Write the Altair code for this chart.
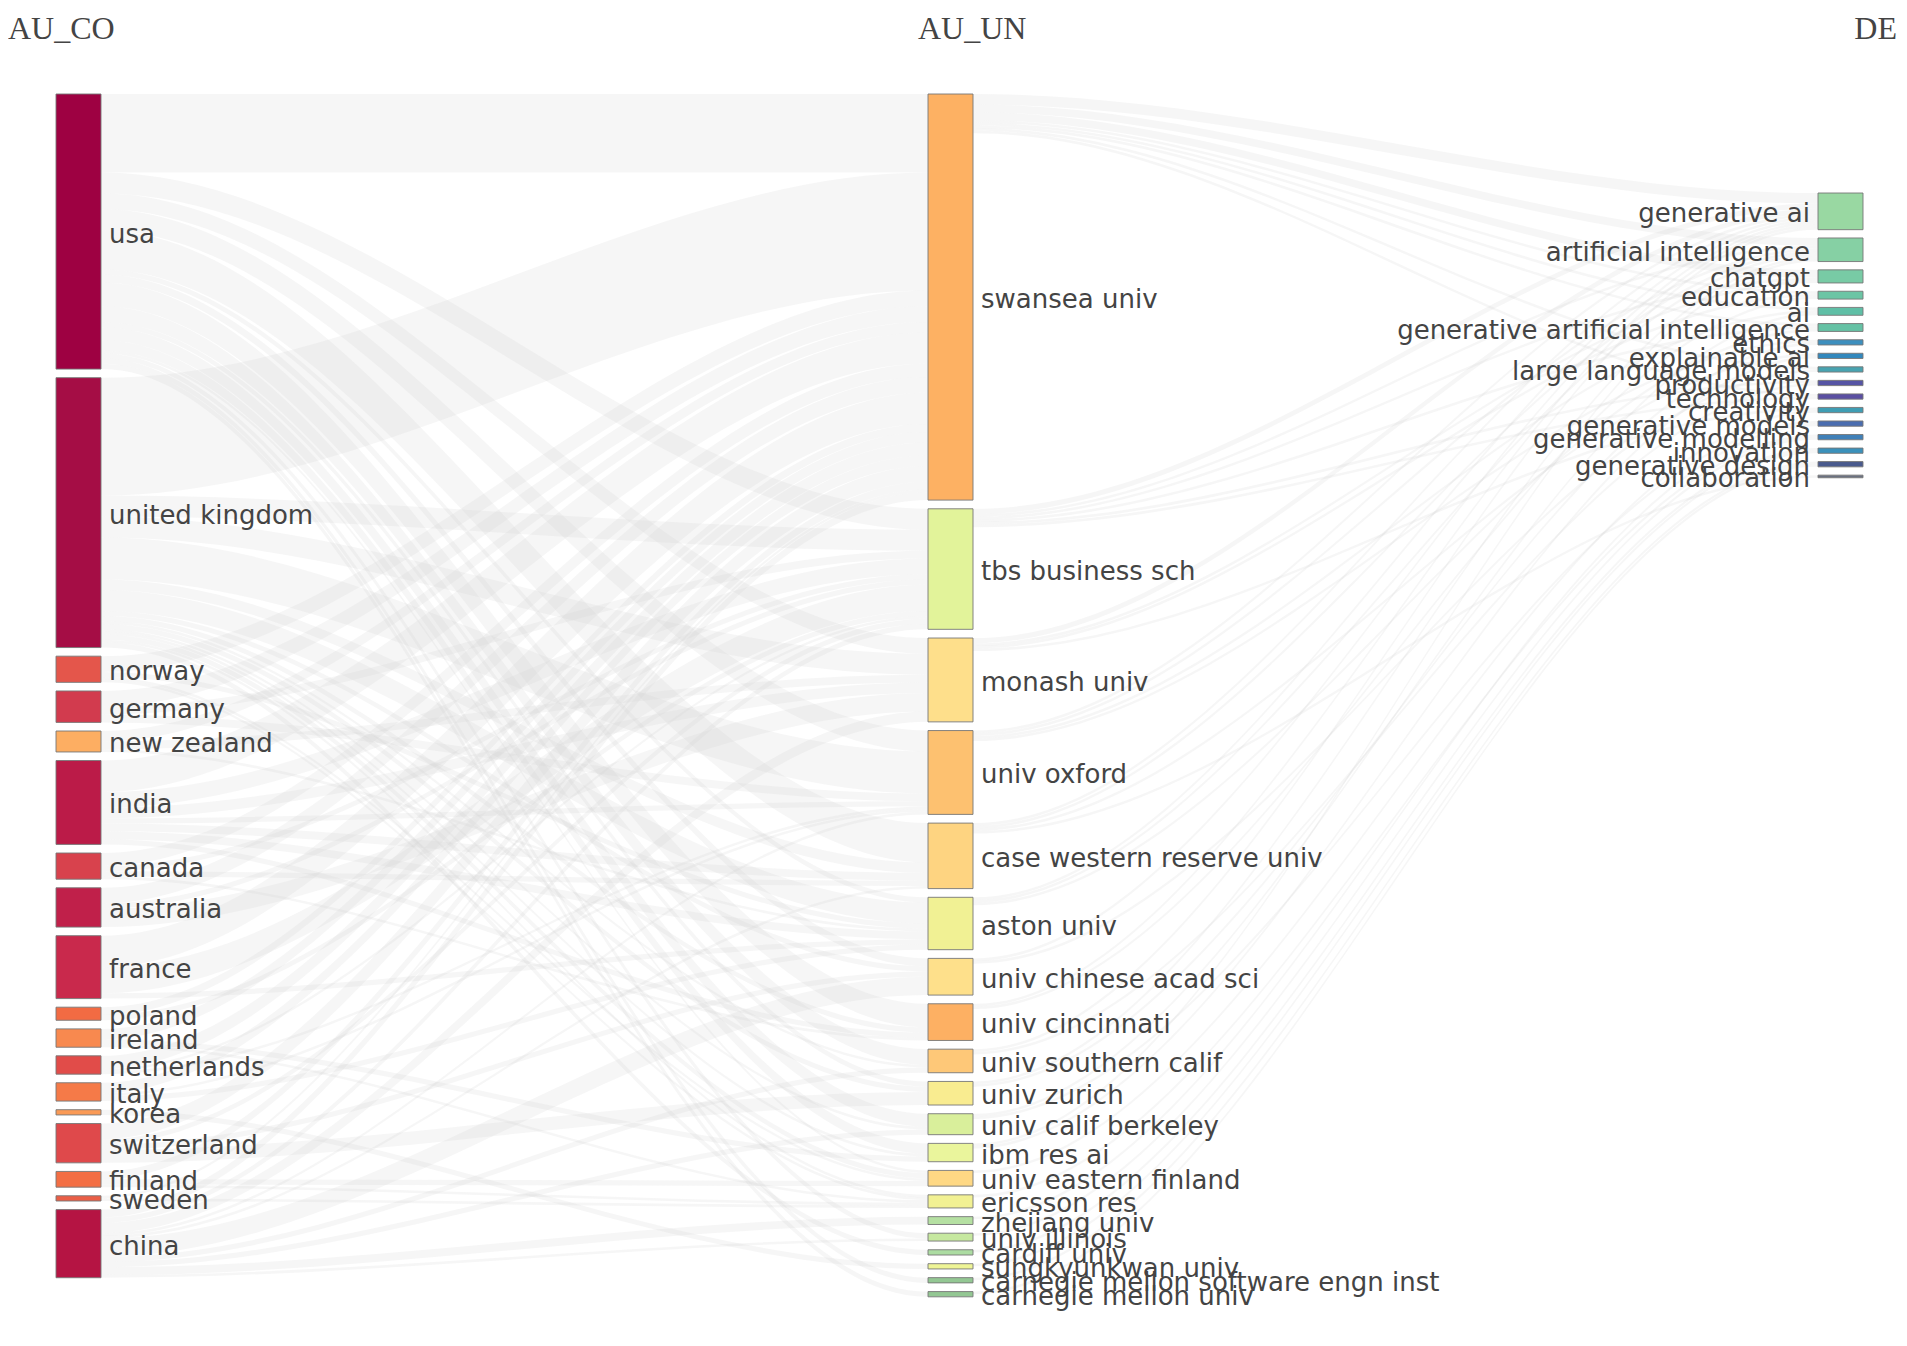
import altair as alt
import pandas as pd
from collections import defaultdict

# ---------------- data ----------------
field_titles = ["AU_CO", "AU_UN", "DE"]

countries = ["usa", "united kingdom", "norway", "germany", "new zealand", "india",
             "canada", "australia", "france", "poland", "ireland", "netherlands",
             "italy", "korea", "switzerland", "finland", "sweden", "china"]

universities = ["swansea univ", "tbs business sch", "monash univ", "univ oxford",
                "case western reserve univ", "aston univ", "univ chinese acad sci",
                "univ cincinnati", "univ southern calif", "univ zurich",
                "univ calif berkeley", "ibm res ai", "univ eastern finland",
                "ericsson res", "zhejiang univ", "univ illinois", "cardiff univ",
                "sungkyunkwan univ", "carnegie mellon software engn inst",
                "carnegie mellon univ"]

keywords = ["generative ai", "artificial intelligence", "chatgpt", "education", "ai",
            "generative artificial intelligence", "ethics", "explainable ai",
            "large language models", "productivity", "technology", "creativity",
            "generative models", "generative modelling", "innovation",
            "generative design", "collaboration"]

# country -> university flows
links_co_un = [
    ("usa", "swansea univ", 30), ("usa", "tbs business sch", 8), ("usa", "monash univ", 6),
    ("usa", "univ oxford", 8), ("usa", "case western reserve univ", 15), ("usa", "aston univ", 2),
    ("usa", "univ chinese acad sci", 3), ("usa", "univ cincinnati", 9),
    ("usa", "univ southern calif", 6), ("usa", "univ zurich", 2), ("usa", "univ calif berkeley", 5),
    ("usa", "ibm res ai", 4), ("usa", "univ eastern finland", 1), ("usa", "univ illinois", 2),
    ("usa", "carnegie mellon software engn inst", 2), ("usa", "carnegie mellon univ", 2),
    ("united kingdom", "swansea univ", 45), ("united kingdom", "tbs business sch", 8),
    ("united kingdom", "monash univ", 8), ("united kingdom", "univ oxford", 16),
    ("united kingdom", "case western reserve univ", 4), ("united kingdom", "aston univ", 8),
    ("united kingdom", "univ chinese acad sci", 2), ("united kingdom", "univ cincinnati", 2),
    ("united kingdom", "univ southern calif", 1), ("united kingdom", "univ zurich", 2),
    ("united kingdom", "univ calif berkeley", 1), ("united kingdom", "ibm res ai", 1),
    ("united kingdom", "univ eastern finland", 2), ("united kingdom", "ericsson res", 1),
    ("united kingdom", "cardiff univ", 2),
    ("norway", "swansea univ", 6), ("norway", "aston univ", 2),
    ("norway", "univ eastern finland", 1), ("norway", "ericsson res", 1),
    ("germany", "swansea univ", 6), ("germany", "tbs business sch", 3), ("germany", "univ oxford", 3),
    ("new zealand", "swansea univ", 4), ("new zealand", "monash univ", 3), ("new zealand", "aston univ", 1),
    ("india", "swansea univ", 12), ("india", "tbs business sch", 6), ("india", "monash univ", 4),
    ("india", "univ oxford", 2), ("india", "case western reserve univ", 3), ("india", "aston univ", 3),
    ("india", "univ cincinnati", 2),
    ("canada", "swansea univ", 5), ("canada", "tbs business sch", 2),
    ("canada", "case western reserve univ", 2), ("canada", "univ cincinnati", 1),
    ("australia", "swansea univ", 6), ("australia", "tbs business sch", 2), ("australia", "monash univ", 7),
    ("france", "swansea univ", 12), ("france", "tbs business sch", 10), ("france", "aston univ", 2),
    ("poland", "swansea univ", 3), ("poland", "tbs business sch", 2),
    ("ireland", "swansea univ", 4), ("ireland", "ibm res ai", 2), ("ireland", "ericsson res", 1),
    ("netherlands", "swansea univ", 5), ("netherlands", "tbs business sch", 1), ("netherlands", "univ oxford", 1),
    ("italy", "swansea univ", 4), ("italy", "univ oxford", 1), ("italy", "aston univ", 2),
    ("korea", "sungkyunkwan univ", 2),
    ("switzerland", "swansea univ", 6), ("switzerland", "tbs business sch", 2),
    ("switzerland", "univ chinese acad sci", 2), ("switzerland", "univ zurich", 5),
    ("finland", "swansea univ", 3), ("finland", "univ eastern finland", 2), ("finland", "ericsson res", 1),
    ("sweden", "swansea univ", 1), ("sweden", "ericsson res", 1),
    ("china", "swansea univ", 3), ("china", "tbs business sch", 2), ("china", "monash univ", 4),
    ("china", "univ oxford", 1), ("china", "case western reserve univ", 1),
    ("china", "univ chinese acad sci", 7), ("china", "univ southern calif", 2),
    ("china", "univ calif berkeley", 2), ("china", "zhejiang univ", 3), ("china", "univ illinois", 1),
]

# university -> keyword flows
links_un_de = [
    ("swansea univ", "generative ai", 4), ("tbs business sch", "generative ai", 2),
    ("monash univ", "generative ai", 2), ("univ oxford", "generative ai", 1),
    ("case western reserve univ", "generative ai", 1), ("aston univ", "generative ai", 1),
    ("univ chinese acad sci", "generative ai", 1), ("univ cincinnati", "generative ai", 1),
    ("univ southern calif", "generative ai", 1),
    ("swansea univ", "artificial intelligence", 3), ("tbs business sch", "artificial intelligence", 1),
    ("univ oxford", "artificial intelligence", 1), ("case western reserve univ", "artificial intelligence", 1),
    ("aston univ", "artificial intelligence", 1), ("univ zurich", "artificial intelligence", 1),
    ("ibm res ai", "artificial intelligence", 1),
    ("swansea univ", "chatgpt", 3), ("tbs business sch", "chatgpt", 1), ("monash univ", "chatgpt", 1),
    ("swansea univ", "education", 1), ("monash univ", "education", 1), ("univ cincinnati", "education", 1),
    ("swansea univ", "ai", 1), ("univ oxford", "ai", 1), ("univ calif berkeley", "ai", 1),
    ("swansea univ", "generative artificial intelligence", 1),
    ("tbs business sch", "generative artificial intelligence", 1),
    ("aston univ", "generative artificial intelligence", 1),
    ("univ oxford", "ethics", 1), ("univ zurich", "ethics", 1),
    ("case western reserve univ", "explainable ai", 1), ("ibm res ai", "explainable ai", 1),
    ("swansea univ", "large language models", 1), ("univ chinese acad sci", "large language models", 1),
    ("tbs business sch", "productivity", 1), ("univ southern calif", "productivity", 1),
    ("swansea univ", "technology", 1), ("tbs business sch", "technology", 1),
    ("monash univ", "creativity", 1), ("univ eastern finland", "creativity", 1),
    ("univ calif berkeley", "generative models", 1), ("zhejiang univ", "generative models", 1),
    ("ericsson res", "generative modelling", 1), ("univ illinois", "generative modelling", 1),
    ("cardiff univ", "innovation", 1), ("sungkyunkwan univ", "innovation", 1),
    ("carnegie mellon software engn inst", "generative design", 1),
    ("carnegie mellon univ", "generative design", 1),
    ("case western reserve univ", "collaboration", 1),
]

# ---------------- styles ----------------
country_colors = ["#9e0142", "#a50d45", "#e4564b", "#d23b4e", "#fdae62", "#bb1b48",
                  "#d8424d", "#c0204a", "#c9294c", "#f26b43", "#f8894f", "#e14c49",
                  "#f57a48", "#fa9a56", "#df494b", "#f36e44", "#ea5e46", "#b51443"]
univ_colors = ["#fdb163", "#e2f39a", "#fedf8b", "#fdc170", "#fed481", "#f1f194",
               "#fee08b", "#fdb063", "#fec878", "#f9ec90", "#d9ef9b", "#eaf59c",
               "#fed884", "#f2f193", "#b5e0a2", "#c6e89f", "#acdca2", "#eef596",
               "#93c793", "#93c793"]
keyword_colors = ["#99d8a2", "#86d0a4", "#78cba5", "#6cc5a5", "#5fbfa6", "#66c2a5",
                  "#3d8fbe", "#3288bd", "#48a3b0", "#5554a4", "#5a4fa2", "#3f9db3",
                  "#4a6db0", "#4080b8", "#3b91bb", "#4a5a8e", "#6a7080"]

W, H = 1891, 1328
KY = 2.62                  # pixels per unit of flow
NODE_W = 45
COL_X = [48, 920, 1810]    # left edge of each column's nodes
TOP_PX = [86, 86, 185]
PAD_PX = [8.6, 8.7, 8.3]
LABEL_GAP = 8
FONT = "DejaVu Sans"

# ---------------- layout from the flows ----------------
columns = [countries, universities, keywords]
colors = [country_colors, univ_colors, keyword_colors]
all_links = links_co_un + links_un_de

inflow, outflow = defaultdict(float), defaultdict(float)
for s, t, v in all_links:
    outflow[s] += v
    inflow[t] += v

col_of, y0_of, val_of = {}, {}, {}
node_rows = []
for c, names in enumerate(columns):
    y = TOP_PX[c] / KY
    for i, n in enumerate(names):
        v = max(inflow[n], outflow[n])
        col_of[n], y0_of[n], val_of[n] = c, y, v
        node_rows.append(dict(name=n, col=c, x0=COL_X[c], x1=COL_X[c] + NODE_W,
                              y0=y, y1=y + v, yc=y + v / 2, color=colors[c][i],
                              lx=(COL_X[c] - LABEL_GAP) if c == 2 else (COL_X[c] + NODE_W + LABEL_GAP)))
        y += v + PAD_PX[c] / KY
nodes = pd.DataFrame(node_rows)

src_y, tgt_y = {}, {}
for n in col_of:
    outs = sorted([k for k, l in enumerate(all_links) if l[0] == n], key=lambda k: y0_of[all_links[k][1]])
    off = y0_of[n]
    for k in outs:
        src_y[k] = off
        off += all_links[k][2]
    ins = sorted([k for k, l in enumerate(all_links) if l[1] == n], key=lambda k: y0_of[all_links[k][0]])
    off = y0_of[n]
    for k in ins:
        tgt_y[k] = off
        off += all_links[k][2]

link_rows = []
for k, (s, t, v) in enumerate(all_links):
    xs = COL_X[col_of[s]] + NODE_W
    xt = COL_X[col_of[t]]
    pts = [(xs, src_y[k]), (xs + 1, src_y[k]), (xt - 1, tgt_y[k]), (xt, tgt_y[k])]
    for step, (px, py) in enumerate(pts):
        link_rows.append(dict(lid=k, step=step, x=float(px), y=float(py), y2=float(py + v)))
links = pd.DataFrame(link_rows)

titles = pd.DataFrame({"t": field_titles, "x": [0, 910, W - 2]})

xs_scale = alt.Scale(domain=[0, W], nice=False, zero=False)
ys_scale = alt.Scale(domain=[0, H / KY], nice=False, zero=False, reverse=True)

link_layer = alt.Chart(links).mark_area(
    interpolate="monotone", color="#d3d3d3", opacity=0.2
).encode(
    x=alt.X("x:Q", scale=xs_scale, axis=None),
    y=alt.Y("y:Q", scale=ys_scale, axis=None, stack=None),
    y2="y2:Q",
    detail="lid:N",
)

node_layer = alt.Chart(nodes).mark_rect(stroke="#777777", strokeWidth=0.9).encode(
    x=alt.X("x0:Q", scale=xs_scale, axis=None),
    x2="x1:Q",
    y=alt.Y("y0:Q", scale=ys_scale, axis=None),
    y2="y1:Q",
    fill=alt.Fill("color:N", scale=None),
)

label_left = alt.Chart(nodes).transform_filter("datum.col < 2").mark_text(
    align="left", baseline="middle", font=FONT, fontSize=26, color="#444444", dy=3
).encode(
    x=alt.X("lx:Q", scale=xs_scale, axis=None),
    y=alt.Y("yc:Q", scale=ys_scale, axis=None),
    text="name:N",
)

label_right = alt.Chart(nodes).transform_filter("datum.col == 2").mark_text(
    align="right", baseline="middle", font=FONT, fontSize=26, color="#444444", dy=3
).encode(
    x=alt.X("lx:Q", scale=xs_scale, axis=None),
    y=alt.Y("yc:Q", scale=ys_scale, axis=None),
    text="name:N",
)

title_left = alt.Chart(titles).transform_filter("datum.t != 'DE'").mark_text(
    align="left", baseline="alphabetic", font="Liberation Serif", fontSize=32, color="#444444"
).encode(
    x=alt.X("x:Q", scale=xs_scale, axis=None),
    y=alt.value(31),
    text="t:N",
)

title_right = alt.Chart(titles).transform_filter("datum.t == 'DE'").mark_text(
    align="right", baseline="alphabetic", font="Liberation Serif", fontSize=32, color="#444444"
).encode(
    x=alt.X("x:Q", scale=xs_scale, axis=None),
    y=alt.value(31),
    text="t:N",
)

chart = alt.layer(
    link_layer, node_layer, label_left, label_right, title_left, title_right
).properties(
    width=W, height=H,
    autosize=alt.AutoSizeParams(type="fit", contains="padding"),
    padding=0,
).configure_view(stroke=None)

chart.save("out.html", embed_options={"renderer": "svg", "actions": False})
